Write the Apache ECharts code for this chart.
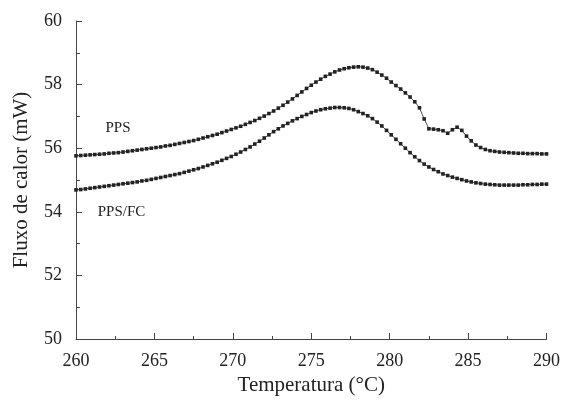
<!DOCTYPE html>
<html>
<head>
<meta charset="utf-8">
<script src="https://cdn.jsdelivr.net/npm/echarts@6/dist/echarts.min.js"></script>
<style>html,body{margin:0;padding:0;background:#fff;}#c{width:563px;height:401px;}</style>
</head>
<body>
<div id="c"></div>
<script>
// Temperature (°C) sample points
var temps = [
260.0,260.3,260.6,260.9,261.2,261.5,261.8,262.1,262.4,262.7,
263.0,263.3,263.6,263.9,264.2,264.5,264.8,265.1,265.4,265.7,
266.0,266.3,266.6,266.9,267.2,267.5,267.8,268.1,268.4,268.7,
269.0,269.3,269.6,269.9,270.2,270.5,270.8,271.1,271.4,271.7,
272.0,272.3,272.6,272.9,273.2,273.5,273.8,274.1,274.4,274.7,
275.0,275.3,275.6,275.9,276.2,276.5,276.8,277.1,277.4,277.7,
278.0,278.3,278.6,278.9,279.2,279.5,279.8,280.1,280.4,280.7,
281.0,281.3,281.6,281.9,282.2,282.5,282.8,283.1,283.4,283.7,
284.0,284.3,284.6,284.9,285.2,285.5,285.8,286.1,286.4,286.7,
287.0,287.3,287.6,287.9,288.2,288.5,288.8,289.1,289.4,289.7,
290.0];
// Heat flow (mW) - PPS
var pps = [
55.76,55.77,55.78,55.79,55.80,55.81,55.82,55.84,55.85,55.86,
55.88,55.90,55.92,55.94,55.96,55.98,56.00,56.02,56.04,56.07,
56.09,56.12,56.15,56.18,56.21,56.24,56.28,56.32,56.36,56.40,
56.44,56.49,56.54,56.59,56.64,56.69,56.75,56.81,56.87,56.94,
57.01,57.09,57.17,57.26,57.35,57.45,57.55,57.66,57.77,57.88,
57.98,58.08,58.17,58.26,58.33,58.40,58.46,58.50,58.53,58.55,
58.56,58.55,58.52,58.47,58.39,58.30,58.20,58.08,57.97,57.86,
57.74,57.61,57.46,57.27,56.92,56.61,56.60,56.58,56.55,56.47,
56.58,56.66,56.56,56.38,56.23,56.10,56.02,55.96,55.92,55.90,
55.88,55.87,55.86,55.85,55.84,55.84,55.83,55.83,55.83,55.82,
55.82];
// Heat flow (mW) - PPS/FC
var ppsfc = [
54.69,54.70,54.72,54.74,54.76,54.78,54.80,54.82,54.84,54.86,
54.88,54.90,54.92,54.94,54.97,54.99,55.02,55.05,55.08,55.11,
55.14,55.17,55.20,55.24,55.28,55.32,55.36,55.41,55.46,55.51,
55.56,55.62,55.68,55.74,55.81,55.88,55.96,56.04,56.13,56.22,
56.32,56.42,56.52,56.61,56.70,56.78,56.86,56.93,57.00,57.06,
57.12,57.17,57.21,57.24,57.26,57.28,57.28,57.27,57.25,57.21,
57.15,57.09,57.02,56.93,56.82,56.70,56.56,56.42,56.28,56.14,
56.00,55.86,55.73,55.61,55.50,55.41,55.33,55.26,55.19,55.14,
55.09,55.05,55.01,54.97,54.94,54.91,54.89,54.87,54.86,54.85,
54.84,54.84,54.84,54.84,54.84,54.85,54.85,54.86,54.86,54.87,
54.87];
var seriesNames = ['PPS', 'PPS/FC'];
var labelPos = [[262.68, 56.64], [262.9, 54.0]];
var xTitle = 'Temperatura (°C)';
var yTitle = 'Fluxo de calor (mW)';

function pairs(xs, ys){ return xs.map(function(x,i){ return [x, ys[i]]; }); }

var font = '"Liberation Serif", "Times New Roman", serif';
var chart = echarts.init(document.getElementById('c'), null, {renderer:'canvas'});
function mkSeries(name, data, lp){
  return {
    name: name, type: 'line', data: data,
    symbol: 'rect', symbolSize: 3.6, showSymbol: true,
    lineStyle: {color:'#222', width:0.8},
    itemStyle: {color:'#222'},
    animation: false,
    markPoint: {
      symbol: 'rect', symbolSize: 0,
      label: {show:true, position:'inside', formatter: name, color:'#222', fontFamily: font, fontSize: 15},
      data: [{coord: lp}]
    }
  };
}
chart.setOption({
  backgroundColor: '#fff',
  animation: false,
  grid: {left: 76, right: 16, top: 21, bottom: 62},
  xAxis: {
    type: 'value', min: 260, max: 290, interval: 5,
    name: xTitle, nameLocation: 'middle', nameGap: 36,
    nameTextStyle: {fontFamily: font, fontSize: 21, color:'#222'},
    axisLine: {show:true, lineStyle:{color:'#444', width:1}},
    axisTick: {show:true, inside:true, length:6, lineStyle:{color:'#444'}},
    minorTick: {show:true, splitNumber:2, length:3, lineStyle:{color:'#444'}},
    splitLine: {show:false},
    axisLabel: {margin: 13, fontFamily: font, fontSize: 18, color:'#222'}
  },
  yAxis: {
    type: 'value', min: 50, max: 60, interval: 2,
    name: yTitle, nameLocation: 'middle', nameGap: 44,
    nameTextStyle: {fontFamily: font, fontSize: 21, color:'#222'},
    axisLine: {show:true, lineStyle:{color:'#444', width:1}},
    axisTick: {show:true, inside:true, length:6, lineStyle:{color:'#444'}},
    minorTick: {show:true, splitNumber:2, length:4, lineStyle:{color:'#444'}},
    splitLine: {show:false},
    axisLabel: {margin: 14, fontFamily: font, fontSize: 18, color:'#222'}
  },
  series: [
    mkSeries(seriesNames[0], pairs(temps, pps), labelPos[0]),
    mkSeries(seriesNames[1], pairs(temps, ppsfc), labelPos[1])
  ]
});
</script>
</body>
</html>
